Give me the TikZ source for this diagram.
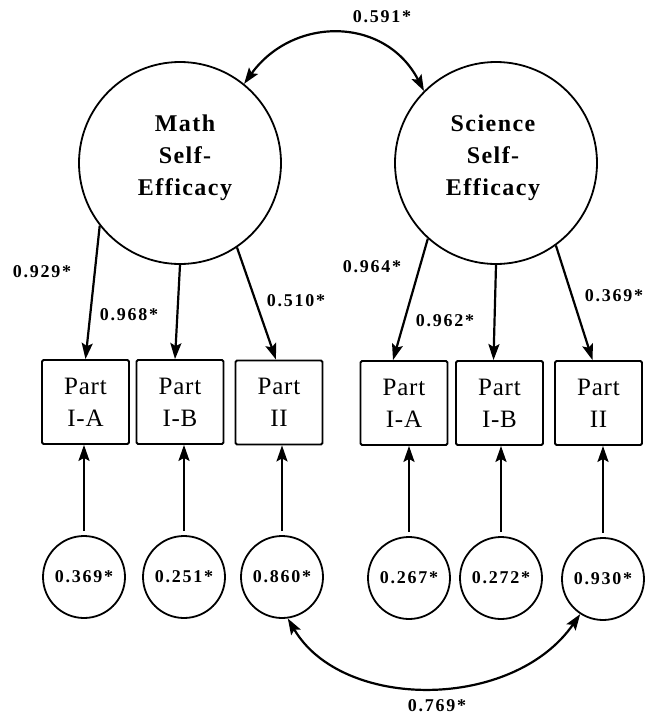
\documentclass[tikz,border=0pt]{standalone}
\usepackage{fontspec}
\setmainfont{Liberation Serif}
\newfontfamily\numf[LetterSpace=10]{Liberation Serif}
\newfontfamily\latf[LetterSpace=6]{Liberation Serif}
\newfontfamily\boxf[LetterSpace=3]{Liberation Serif}
\newcommand{\numfont}{\numf\bfseries\fontsize{18}{20}\selectfont}
\newcommand{\latfont}{\latf\bfseries\fontsize{24}{32}\selectfont}
\newcommand{\boxfont}{\boxf\fontsize{25}{32}\selectfont}
\usetikzlibrary{arrows.meta}
\begin{document}
\begin{tikzpicture}[x=1pt,y=-1pt,
 lat/.style={circle,draw,line width=1.8pt,minimum size=202pt,inner sep=0pt},
 err/.style={circle,draw,line width=1.8pt,minimum size=82pt,inner sep=0pt,font=\numfont},
 obs/.style={draw,line width=1.8pt,rounded corners=1.5pt,minimum width=87pt,minimum height=84pt,inner sep=0pt,align=center,font=\boxfont},
 lab/.style={font=\numfont,inner sep=0pt},
 ltxt/.style={align=center,font=\latfont,inner sep=0pt},
 tip/.style={Stealth[length=16pt,width=11pt,inset=3pt]},
 arr/.style={line width=2.2pt,-{Stealth[length=16pt,width=11pt,inset=3pt]}},
 darr/.style={line width=2.2pt,{Stealth[length=16pt,width=11pt,inset=3pt]}-{Stealth[length=16pt,width=11pt,inset=3pt]}}]
\useasboundingbox (0,0) rectangle (647,721);

% latent factors
\node[lat] (m) at (180,163) {};
\node[lat] (s) at (496,163) {};
\node[ltxt] (mt) at (185,158) {Math\\Self-\\Efficacy};
\node[ltxt] (st) at (493,158) {Science\\Self-\\Efficacy};

% observed
\node[obs] (b1) at (85.5,402) {Part\\I-A};
\node[obs] (b2) at (180,402) {Part\\I-B};
\node[obs] (b3) at (279,402.5) {Part\\II};
\node[obs] (b4) at (404,403) {Part\\I-A};
\node[obs] (b5) at (499.5,403) {Part\\I-B};
\node[obs] (b6) at (598.5,403) {Part\\II};

% errors
\node[err] (e1) at (84,577) {0.369*};
\node[err] (e2) at (184,577) {0.251*};
\node[err] (e3) at (282,577) {0.860*};
\node[err] (e4) at (409,578) {0.267*};
\node[err] (e5) at (501,578) {0.272*};
\node[err] (e6) at (603,579) {0.930*};

% loadings
\draw[arr] (m.218) -- (b1.north);
\draw[arr] (m.270) -- ([xshift=-5pt]b2.north);
\draw[arr] (m.-56) -- ([xshift=-3pt]b3.north);
\draw[arr] (s.228) -- ([xshift=-11pt]b4.north);
\draw[arr] (s.270) -- ([xshift=-6pt]b5.north);
\draw[arr] (s.-54) -- ([xshift=-6pt]b6.north);

% error paths
\foreach \i in {1,...,6}{
  \draw[arr] ([yshift=4pt]e\i.north) -- (e\i.north |- b\i.south);
}

% covariances
\draw[darr] (m.51) .. controls (293,16) and (385,16) .. (s.135);
\draw[darr] (e3.-82) .. controls (342,711) and (513,711) .. (e6.237);

% labels
\node[lab] (l0) at (382,17) {0.591*};
\node[lab] (l1) at (42,272) {0.929*};
\node[lab] (l2) at (129,315) {0.968*};
\node[lab] (l3) at (296,301) {0.510*};
\node[lab] (l4) at (372,267) {0.964*};
\node[lab] (l5) at (445,321) {0.962*};
\node[lab] (l6) at (614,296) {0.369*};
\node[lab] (l7) at (437,706) {0.769*};
\end{tikzpicture}
\end{document}
